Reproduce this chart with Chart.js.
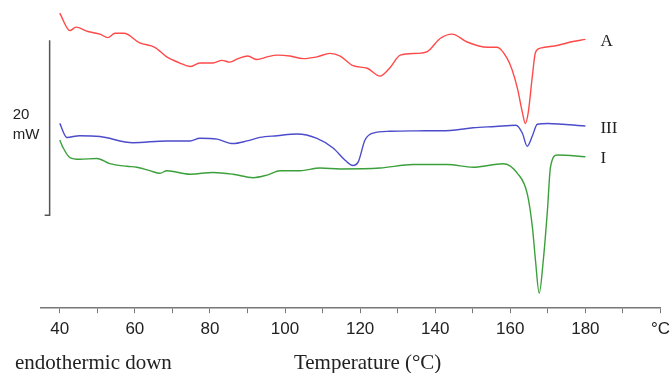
<!DOCTYPE html>
<html>
<head>
<meta charset="utf-8">
<script src="https://cdn.jsdelivr.net/npm/chart.js@4"></script>
<style>
  html, body { margin: 0; padding: 0; background: #fff; }
</style>
</head>
<body>
<canvas id="dsc" width="670" height="373"></canvas>
<script>
// DSC traces, temperature in °C, heat flow in mW (arbitrary offset per curve)
const tempA = [40,42.7,44.3,47.5,50.7,52.8,54.7,57.1,61.3,65.3,68.5,72,74.7,77.3,80.8,83.2,85.3,87.5,90.1,92.5,95.2,97.9,101.3,104.8,108.5,112,114.7,118.1,121.9,125.3,128,130.7,135.2,137.9,141.3,144.5,148.5,153.9,156.5,159.2,160.5,161.9,163.2,164,164.8,165.9,166.7,168,172.5,176,180];
const heatA = [33.7,31.7,32.1,31.6,31.3,30.9,31.4,31.4,30.3,29.8,28.7,28,27.6,28,28,28.3,28.1,28.5,28.8,28.4,28.7,28.9,28.8,28.5,28.7,29.1,28.8,27.7,27.4,26.5,27.5,28.9,29.1,29.3,30.8,31.3,30.4,29.8,29.8,28.5,27.2,25.1,22.4,21.1,22.4,26.6,29.2,29.7,30,30.4,30.7];

const tempIII = [40,41.9,45.3,50.7,59.5,68.5,74.7,77.3,81.9,86.1,89.9,93.3,97.9,103.2,108.5,112.8,116,118.1,119.5,121.3,123.5,128,135,144,150.1,156,161.5,163.2,164.5,165.9,167.2,170,174,180];
const heatIII = [21.1,19.5,19.7,19.6,18.9,19.1,19.1,19.4,19.3,18.8,19.1,19.5,19.7,19.9,19.4,18.3,16.9,16.3,16.7,19.2,20,20.2,20.25,20.3,20.6,20.75,20.9,20.0,18.5,19.7,21.0,21.1,21.0,20.8];

const tempI = [40,40.8,42.7,45.3,49.9,53.3,57.9,60.5,64,66.7,68.5,74.7,80.8,86.1,91.5,95.2,98.7,104,109.3,114.7,125.3,134.1,143.2,150.1,158.1,161.9,164.5,165.9,166.7,167.7,168.8,169.9,170.7,172.5,180];
const heatI = [19.2,18.4,17.2,17,17.1,16.5,16.2,16.1,15.7,15.4,15.7,15.3,15.5,15.3,14.9,15.2,15.7,15.7,16,15.9,16,16.4,16.4,16.1,16.5,15.4,13.1,9.2,5.5,1.7,5.5,11.2,16.1,17.5,17.3];

const tickValues = [40,50,60,70,80,90,100,110,120,130,140,150,160,170,180,190,200];

const curveNames = ['A', 'III', 'I'];
const curveColors = ['#ff4a4a', '#4b4bcc', '#3ba03b'];

// 20 mW scale bar
const barTemp = 37.3;
const barFrom = 10.6;
const barSize = 20;

function pairs(xs, ys) {
    return xs.map((t, i) => ({ x: t, y: ys[i] }));
}

const extras = {
    id: 'extras',
    afterDraw(chart) {
        const ctx = chart.ctx;
        const xs = chart.scales.x, ys = chart.scales.y;
        ctx.save();

        // scale bar
        const bx = xs.getPixelForValue(barTemp);
        const top = ys.getPixelForValue(barFrom + barSize);
        const bot = ys.getPixelForValue(barFrom);
        ctx.strokeStyle = '#555';
        ctx.lineWidth = 1.5;
        ctx.beginPath();
        ctx.moveTo(bx, top);
        ctx.lineTo(bx, bot);
        ctx.lineTo(bx - 5, bot);
        ctx.stroke();

        ctx.fillStyle = '#222';
        ctx.font = '15px "Liberation Sans", Arial, sans-serif';
        ctx.textAlign = 'left';
        ctx.textBaseline = 'middle';
        const mid = (top + bot) / 2;
        ctx.fillText('20', bx - 37, mid - 13);
        ctx.fillText('mW', bx - 37, mid + 7);

        // curve labels
        ctx.font = '17px "Liberation Serif", "Times New Roman", serif';
        chart.data.datasets.forEach((ds, i) => {
            const pts = chart.getDatasetMeta(i).data;
            const last = pts[pts.length - 1];
            ctx.fillText(curveNames[i], last.x + 15, last.y + 2);
        });

        // bottom texts
        ctx.font = '21px "Liberation Serif", "Times New Roman", serif';
        ctx.fillText('endothermic down', 15, 363);
        ctx.textAlign = 'center';
        ctx.fillText('Temperature (°C)', xs.getPixelForValue(122), 363);
        ctx.restore();
    }
};

new Chart(document.getElementById('dsc'), {
    type: 'line',
    data: {
        datasets: [
            { label: 'A', data: pairs(tempA, heatA) },
            { label: 'III', data: pairs(tempIII, heatIII) },
            { label: 'I', data: pairs(tempI, heatI) }
        ].map((ds, i) => Object.assign(ds, {
            borderColor: curveColors[i],
            borderWidth: 1.4,
            pointRadius: 0,
            fill: false,
            cubicInterpolationMode: 'monotone'
        }))
    },
    options: {
        responsive: false,
        animation: false,
        layout: { padding: { left: 41, right: 0, top: 0, bottom: 28 } },
        plugins: { legend: { display: false }, tooltip: { enabled: false } },
        scales: {
            x: {
                type: 'linear',
                min: 35,
                max: 200,
                afterBuildTicks: scale => {
                    scale.ticks = tickValues.map(v => ({ value: v }));
                },
                ticks: {
                    autoSkip: false,
                    maxRotation: 0,
                    padding: 0,
                    color: '#222',
                    font: { family: '"Liberation Sans", Arial, sans-serif', size: 17, lineHeight: 1.875 },
                    callback: v => v === 200 ? '°C' : (v % 20 === 0 ? v : '')
                },
                grid: { drawOnChartArea: false, drawTicks: true, tickLength: 5, color: '#777' },
                border: { display: true, color: '#777', width: 1.5 }
            },
            y: {
                display: false,
                min: 0,
                max: 35.2
            }
        }
    },
    plugins: [extras]
});
</script>
</body>
</html>
